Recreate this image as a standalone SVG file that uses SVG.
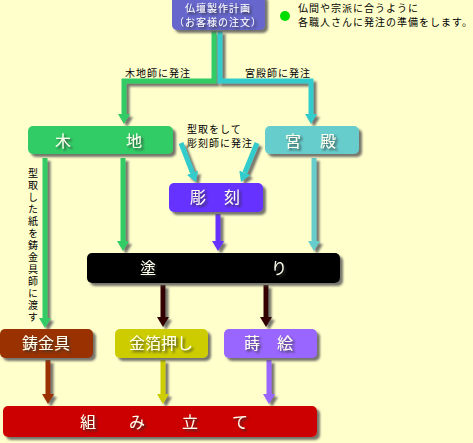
<svg xmlns="http://www.w3.org/2000/svg" width="473" height="443" viewBox="0 0 473 443">
<style>
.bg{fill:#FFFFCC}
.box{filter:url(#sh)}
.nt{font-family:"Noto Sans CJK JP",sans-serif;font-size:16px;fill:#FFFFF0;text-anchor:middle;filter:url(#tsh)}
.lb{font-family:"Noto Sans CJK JP",sans-serif;font-size:10px;letter-spacing:1px;fill:#000}
.tt{font-family:"Noto Sans CJK JP",sans-serif;font-size:10px;letter-spacing:1px;fill:#FFFFFF;text-anchor:middle;filter:url(#tsh)}
.ln{fill:none;stroke-width:5}
</style>
<defs>
<filter id="sh" x="-10%" y="-10%" width="130%" height="140%">
<feDropShadow dx="3" dy="3" stdDeviation="1" flood-color="#555" flood-opacity="0.8"/>
</filter>
<filter id="tsh" x="-10%" y="-10%" width="130%" height="140%">
<feDropShadow dx="2" dy="2" stdDeviation="0.8" flood-color="#333" flood-opacity="0.8"/>
</filter>
<marker id="ag" viewBox="0 0 10 12" refX="0" refY="6" markerWidth="10" markerHeight="12" markerUnits="userSpaceOnUse" orient="auto"><path d="M0,0L10,6L0,12z" fill="#33CC66"/></marker>
<marker id="ac" viewBox="0 0 10 12" refX="0" refY="6" markerWidth="10" markerHeight="12" markerUnits="userSpaceOnUse" orient="auto"><path d="M0,0L10,6L0,12z" fill="#33CCCC"/></marker>
<marker id="ak" viewBox="0 0 10 12" refX="0" refY="6" markerWidth="10" markerHeight="12" markerUnits="userSpaceOnUse" orient="auto"><path d="M0,0L10,6L0,12z" fill="#66CCCC"/></marker>
<marker id="ap" viewBox="0 0 10 12" refX="0" refY="6" markerWidth="10" markerHeight="12" markerUnits="userSpaceOnUse" orient="auto"><path d="M0,0L10,6L0,12z" fill="#6633FF"/></marker>
<marker id="ad" viewBox="0 0 10 12" refX="0" refY="6" markerWidth="10" markerHeight="12" markerUnits="userSpaceOnUse" orient="auto"><path d="M0,0L10,6L0,12z" fill="#330000"/></marker>
<marker id="ab" viewBox="0 0 10 12" refX="0" refY="6" markerWidth="10" markerHeight="12" markerUnits="userSpaceOnUse" orient="auto"><path d="M0,0L10,6L0,12z" fill="#993300"/></marker>
<marker id="ay" viewBox="0 0 10 12" refX="0" refY="6" markerWidth="10" markerHeight="12" markerUnits="userSpaceOnUse" orient="auto"><path d="M0,0L10,6L0,12z" fill="#CCCC00"/></marker>
<marker id="al" viewBox="0 0 10 12" refX="0" refY="6" markerWidth="10" markerHeight="12" markerUnits="userSpaceOnUse" orient="auto"><path d="M0,0L10,6L0,12z" fill="#9966FF"/></marker>
</defs>
<rect class="bg" x="0" y="0" width="473" height="443"/>

<g id="connectors" filter="url(#sh)">
<path class="ln" d="M220,31V81H311V114" stroke="#33CCCC" marker-end="url(#ac)"/>
<path class="ln" d="M214,31V81H124V114" stroke="#33CC66" marker-end="url(#ag)"/>
<path class="ln" d="M181,143L192.4,172.7" stroke="#33CCCC" marker-end="url(#ac)"/>
<path class="ln" d="M257,143L244.8,172.8" stroke="#33CCCC" marker-end="url(#ac)"/>
<path class="ln" d="M45,158V318" stroke="#33CC66" marker-end="url(#ag)"/>
<path class="ln" d="M123,158V241" stroke="#33CC66" marker-end="url(#ag)"/>
<path class="ln" d="M218,214V241" stroke="#6633FF" marker-end="url(#ap)"/>
<path class="ln" d="M314,158V241" stroke="#66CCCC" marker-end="url(#ak)"/>
<path class="ln" d="M163,285V317" stroke="#330000" marker-end="url(#ad)"/>
<path class="ln" d="M266,285V317" stroke="#330000" marker-end="url(#ad)"/>
<path class="ln" d="M48,360V394" stroke="#993300" marker-end="url(#ab)"/>
<path class="ln" d="M163,360V394" stroke="#CCCC00" marker-end="url(#ay)"/>
<path class="ln" d="M269,360V394" stroke="#9966FF" marker-end="url(#al)"/>
</g>

<g id="labels">
<text class="lb" x="125" y="77">木地師に発注</text>
<text class="lb" x="245" y="77">宮殿師に発注</text>
<text class="lb" x="187" y="133">型取をして</text>
<text class="lb" x="187" y="147">彫刻師に発注</text>
<text class="lb" x="33" y="168" writing-mode="vertical-rl" style="letter-spacing:2px">型取した紙を鋳金具師に渡す</text>
</g>

<g id="note">
<circle cx="285" cy="16" r="5" fill="#00DD00"/>
<text class="lb" x="298" y="12">仏間や宗派に合うように</text>
<text class="lb" x="298" y="26">各職人さんに発注の準備をします。</text>
</g>

<g id="order">
<rect class="box" x="172" y="-6" width="93" height="36" rx="5" fill="#6666CC"/>
<text class="tt" x="218" y="12">仏壇製作計画</text>
<text class="tt" x="218" y="26">（お客様の注文）</text>
</g>

<g id="kiji">
<rect class="box" x="28" y="126" width="145" height="28" rx="5" fill="#33CC66"/>
<text class="nt" x="63 134" y="147">木地</text>
</g>

<g id="kuden">
<rect class="box" x="265" y="126" width="94" height="28" rx="5" fill="#66CCCC"/>
<text class="nt" x="293 328" y="147">宮殿</text>
</g>

<g id="chokoku">
<rect class="box" x="169" y="183" width="94" height="29" rx="5" fill="#6633FF"/>
<text class="nt" x="198 232" y="203">彫刻</text>
</g>

<g id="nuri">
<rect class="box" x="87" y="253" width="253" height="30" rx="5" fill="#000000"/>
<text class="nt" x="148 279" y="274">塗り</text>
</g>

<g id="chukingu">
<rect class="box" x="0" y="329" width="93" height="29" rx="5" fill="#993300"/>
<text class="nt" x="46" y="349">鋳金具</text>
</g>

<g id="kinpaku">
<rect class="box" x="115" y="329" width="93" height="29" rx="5" fill="#CCCC00"/>
<text class="nt" x="161" y="349">金箔押し</text>
</g>

<g id="makie">
<rect class="box" x="224" y="329" width="93" height="29" rx="5" fill="#9966FF"/>
<text class="nt" x="252 285" y="349">蒔絵</text>
</g>

<g id="kumitate">
<rect class="box" x="3" y="406" width="314" height="31" rx="5" fill="#CC0000"/>
<text class="nt" x="88 137 190 240" y="428">組み立て</text>
</g>
</svg>
